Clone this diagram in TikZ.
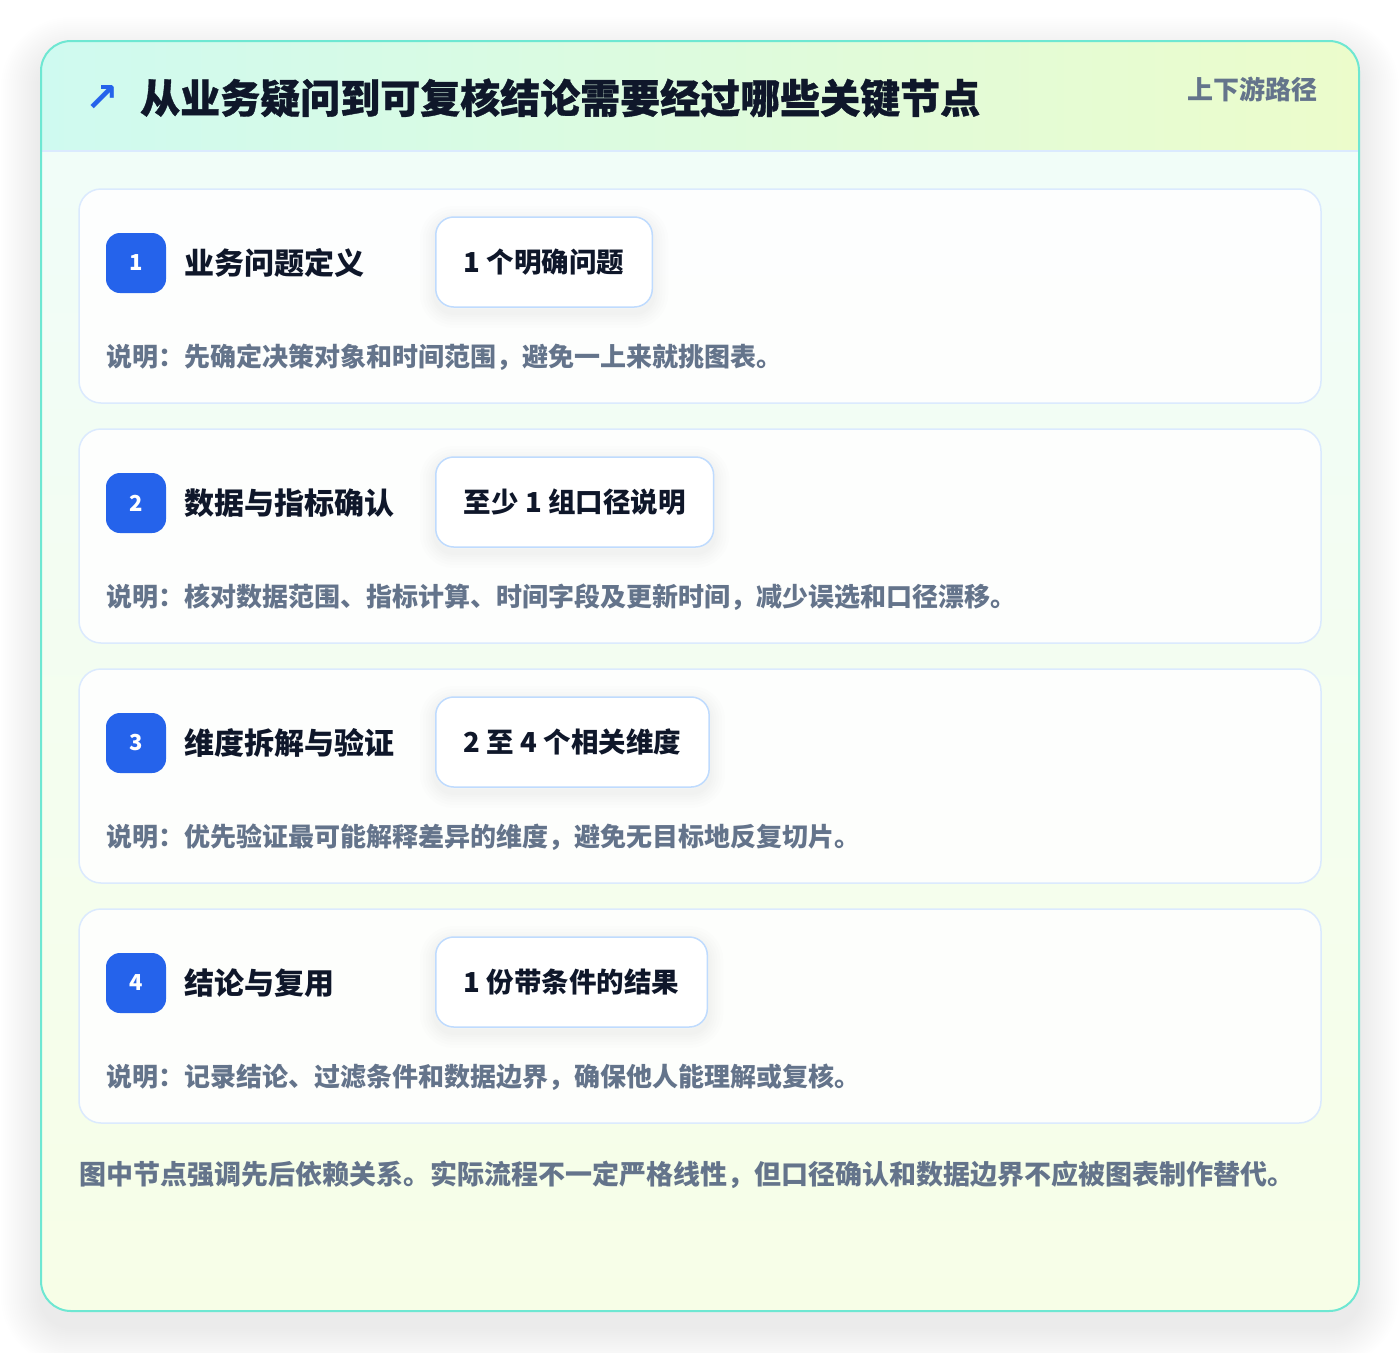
\documentclass[tikz,border=0pt]{standalone}
\usepackage{fontspec}
\setmainfont{Noto Sans CJK SC}
\newfontfamily\heavyfont{Noto Sans CJK SC}[BoldFeatures={FakeBold=0.9}]
\newfontfamily\symfont{DejaVu Sans}
\definecolor{ink}{HTML}{0F172A}
\definecolor{muted}{HTML}{64748B}
\definecolor{badgeblue}{HTML}{2563EB}
\definecolor{cardline}{HTML}{DBEAFE}
\definecolor{chipline}{HTML}{BFDBFE}
\definecolor{teal}{HTML}{6EE7D2}
\definecolor{headL}{HTML}{CFFAF0}
\definecolor{headR}{HTML}{ECFCCB}
\definecolor{bodyT}{HTML}{F0FDFA}
\definecolor{bodyB}{HTML}{F7FEE7}
\tikzset{
  stepcard/.style={draw=cardline, line width=1.5pt, fill=white, fill opacity=0.88,
    rounded corners=22pt, minimum width=1242pt, minimum height=214pt, inner sep=0pt},
  badge/.style={fill=badgeblue, rounded corners=14pt, minimum size=60pt, inner sep=0pt,
    text=white, font=\fontsize{22}{24}\selectfont\bfseries},
  steptitle/.style={anchor=west, inner sep=0pt, text=ink, font=\fontsize{30}{32}\selectfont\bfseries},
  chipshadow/.style={preaction={draw=black, draw opacity=0.006, line width=#1pt, transform canvas={yshift=-5pt}}},
  chip/.style={draw=chipline, line width=1.5pt, fill=white, rounded corners=18pt,
    minimum height=90pt, inner xsep=28pt, anchor=west, text=ink,
    font=\fontsize{27.5}{30}\selectfont\bfseries,
    chipshadow=32, chipshadow=26, chipshadow=20, chipshadow=15, chipshadow=10, chipshadow=6},
  desc/.style={anchor=west, inner sep=0pt, text=muted, font=\fontsize{26}{28}\selectfont\bfseries},
}
\begin{document}
\begin{tikzpicture}[x=1pt,y=-1pt]
\useasboundingbox (0,0) rectangle (1400,1352);
\fill[white] (0,0) rectangle (1400,1352);
% outer shadow
\foreach \i in {2,4,...,40}{
  \pgfmathsetmacro{\rr}{30+\i}
  \fill[black, opacity=0.0045, rounded corners=\rr pt] (41-\i,57-\i) rectangle (1359+\i,1327+\i);
}
% card background
\begin{scope}
  \clip[rounded corners=30pt] (41,41) rectangle (1359,1311);
  \shade[top color=bodyT, bottom color=bodyB] (41,41) rectangle (1359,1311);
  \shade[left color=headL, right color=headR] (41,41) rectangle (1359,151);
  \draw[cardline, line width=1.5pt] (41,151) -- (1359,151);
\end{scope}
\node[draw=teal, line width=2pt, rounded corners=30pt, minimum width=1318pt, minimum height=1270pt, inner sep=0pt] (outer) at (700,676) {};
% header
\node[text=badgeblue, font=\symfont\fontsize{40}{42}\selectfont\bfseries, inner sep=0pt] (arrow) at (102,98) {↗};
\node[anchor=west, inner sep=0pt, text=ink, font=\heavyfont\fontsize{40}{42}\selectfont\bfseries] (title) at (140,98) {从业务疑问到可复核结论需要经过哪些关键节点};
\node[anchor=east, inner sep=0pt, text=muted, font=\fontsize{26}{28}\selectfont\bfseries] (tag) at (1318,89) {上下游路径};
% step 1
\node[stepcard] (card1) at (700,296) {};
\node[badge] (b1) at (136,263) {1};
\node[steptitle] (t1) at (184,263) {业务问题定义};
\node[chip] (c1) at (435,262) {1 个明确问题};
\node[desc] (d1) at (106,357) {说明：先确定决策对象和时间范围，避免一上来就挑图表。};
% step 2
\node[stepcard] (card2) at (700,536) {};
\node[badge] (b2) at (136,503) {2};
\node[steptitle] (t2) at (184,503) {数据与指标确认};
\node[chip] (c2) at (435,502) {至少 1 组口径说明};
\node[desc] (d2) at (106,597) {说明：核对数据范围、指标计算、时间字段及更新时间，减少误选和口径漂移。};
% step 3
\node[stepcard] (card3) at (700,776) {};
\node[badge] (b3) at (136,743) {3};
\node[steptitle] (t3) at (184,743) {维度拆解与验证};
\node[chip] (c3) at (435,742) {2 至 4 个相关维度};
\node[desc] (d3) at (106,837) {说明：优先验证最可能解释差异的维度，避免无目标地反复切片。};
% step 4
\node[stepcard] (card4) at (700,1016) {};
\node[badge] (b4) at (136,983) {4};
\node[steptitle] (t4) at (184,983) {结论与复用};
\node[chip] (c4) at (435,982) {1 份带条件的结果};
\node[desc] (d4) at (106,1077) {说明：记录结论、过滤条件和数据边界，确保他人能理解或复核。};
% footer
\node[anchor=west, inner sep=0pt, text=muted, font=\fontsize{27}{30}\selectfont\bfseries] (foot) at (79,1175) {图中节点强调先后依赖关系。实际流程不一定严格线性，但口径确认和数据边界不应被图表制作替代。};
\end{tikzpicture}
\end{document}
